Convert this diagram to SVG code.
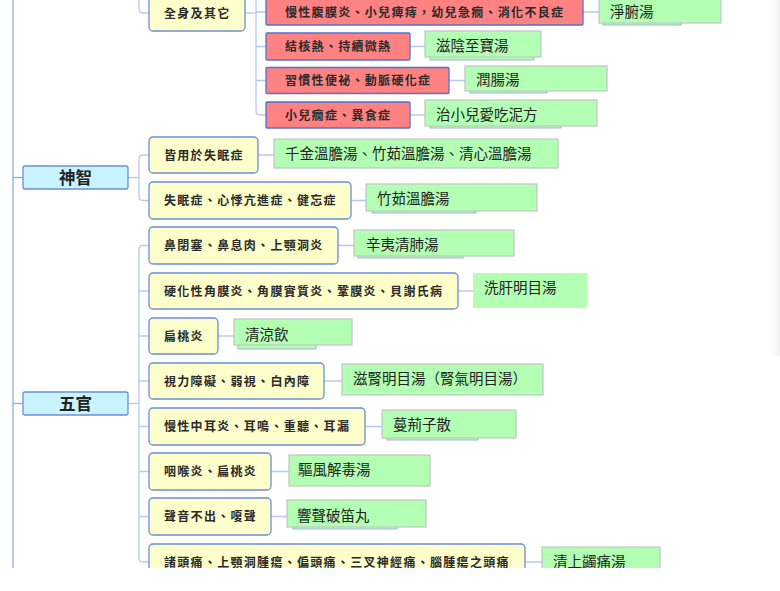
<svg xmlns="http://www.w3.org/2000/svg" width="780" height="591" viewBox="0 0 780 591">
<style>
.main rect{fill:#c9f4ff;stroke:#6a8fd8;stroke-width:1.3}
.main text{font-family:"Noto Sans CJK TC","Noto Sans CJK SC",sans-serif;font-size:16.5px;font-weight:bold;fill:#222;text-anchor:middle}
.yel rect{fill:#ffffcc;stroke:#6a8fd8;stroke-width:1.3}
.red rect{fill:#ff8282;stroke:#4f73cf;stroke-width:1.3}
.yel text,.red text{font-family:"Noto Sans CJK TC","Noto Sans CJK SC",sans-serif;font-size:12px;font-weight:bold;letter-spacing:1.3px;fill:#2a2a2a}
.grn rect{fill:#b3ffb3;stroke:#c4c4c4;stroke-width:1.2}
.grn rect.sh{fill:#b3ffb3;stroke:#9fb7d6;stroke-width:1}
.grn rect.nb{stroke:none}
.grn text{font-family:"Noto Sans CJK TC","Noto Sans CJK SC",sans-serif;font-size:14.5px;fill:#222}
.con path{fill:none;stroke:#b8caec;stroke-width:1.3}
.con path.tr{stroke:#8eaae0}
</style>
<defs>
<clipPath id="clip"><rect x="0" y="0" width="780" height="568"/></clipPath>
<linearGradient id="edge" x1="0" x2="1" y1="0" y2="0"><stop offset="0" stop-color="#ffffff" stop-opacity="0"/><stop offset="1" stop-color="#e8e8e8"/></linearGradient>
</defs>
<rect x="0" y="0" width="780" height="591" fill="#ffffff"/>
<rect x="768" y="0" width="12" height="356" fill="url(#edge)" opacity="0.7"/>
<g clip-path="url(#clip)">
<g id="connectors" class="con">
<path class="tr" d="M13,0 V568"/>
<path class="tr" d="M13,177.5 H23"/>
<path class="tr" d="M13,403.5 H23"/>
<path d="M139,0 V9 Q139,13 143,13 H149"/>
<path d="M245,13 H256"/>
<path d="M256,0 V111 Q256,115 260,115 H266"/>
<path d="M256,12 H266 M256,46.5 H266 M256,80.5 H266"/>
<path d="M583,12 H599 M410,46.5 H425 M449,80.5 H465 M410,115 H425"/>
<path d="M128,177.5 H139"/>
<path d="M149,155 H143 Q139,155 139,159 V196.5 Q139,200.5 143,200.5 H149"/>
<path d="M258,155 H274 M351,200.5 H366"/>
<path d="M128,403.5 H139"/>
<path d="M149,245.5 H143 Q139,245.5 139,249.5 V558 Q139,562 143,562 H149"/>
<path d="M139,291 H149 M139,336 H149 M139,381 H149 M139,426.5 H149 M139,471.5 H149 M139,516.5 H149"/>
<path d="M338,245.5 H354 M458,291 H473 M218,336 H234 M324,381 H342 M365,426.5 H382 M271,471.5 H289 M271,516.5 H287 M525,562 H542"/>
</g>
<g id="n-shenzhi" class="main"><rect x="23" y="166" width="105" height="23" rx="2"/><text x="75.5" y="183.5">神智</text></g>
<g id="n-wuguan" class="main"><rect x="23" y="392" width="105" height="23" rx="2"/><text x="75.5" y="409.5">五官</text></g>
<g id="n-quanshen" class="yel"><rect x="149" y="-6" width="96" height="37" rx="4"/><text x="164" y="17.5">全身及其它</text></g>
<g id="n-r1" class="red"><rect x="266" y="-2" width="317" height="27" rx="1"/><text x="285" y="16.5">慢性腹膜炎、小兒痺痔，幼兒急癇、消化不良症</text></g>
<g id="n-r2" class="red"><rect x="266" y="33" width="144" height="27" rx="1"/><text x="285" y="51">結核熱、持續微熱</text></g>
<g id="n-r3" class="red"><rect x="266" y="67.5" width="183" height="26" rx="1"/><text x="285" y="85">習慣性便祕、動脈硬化症</text></g>
<g id="n-r4" class="red"><rect x="266" y="102" width="144" height="26" rx="1"/><text x="285" y="119.5">小兒癇症、異食症</text></g>
<g id="n-g1" class="grn"><rect class="sh" x="603" y="14" width="78" height="11"/><rect x="599" y="-4" width="122" height="27"/><text x="610" y="17">淨腑湯</text></g>
<g id="n-g2" class="grn"><rect class="sh" x="430" y="49" width="104" height="11"/><rect x="425" y="31" width="116" height="26"/><text x="436" y="51">滋陰至寶湯</text></g>
<g id="n-g3" class="grn"><rect class="sh" x="470" y="82" width="77" height="11"/><rect x="465" y="66" width="142" height="25"/><text x="476" y="85">潤腸湯</text></g>
<g id="n-g4" class="grn"><rect class="sh" x="430" y="117" width="131" height="11"/><rect x="425" y="100" width="172" height="26"/><text x="436" y="120">治小兒愛吃泥方</text></g>
<g id="n-y1" class="yel"><rect x="149" y="137" width="109" height="36" rx="4"/><text x="164" y="159.5">皆用於失眠症</text></g>
<g id="n-g5" class="grn"><rect x="274" y="139" width="284" height="29"/><text x="285" y="159">千金溫膽湯、竹茹溫膽湯、清心溫膽湯</text></g>
<g id="n-y2" class="yel"><rect x="149" y="182" width="202" height="37" rx="4"/><text x="164" y="205">失眠症、心悸亢進症、健忘症</text></g>
<g id="n-g6" class="grn"><rect class="sh" x="372" y="202" width="104" height="11"/><rect x="366" y="184" width="171" height="27"/><text x="377" y="204">竹茹溫膽湯</text></g>
<g id="n-y3" class="yel"><rect x="149" y="227" width="189" height="37" rx="4"/><text x="164" y="250">鼻閉塞、鼻息肉、上顎洞炎</text></g>
<g id="n-g7" class="grn"><rect class="sh" x="358" y="247" width="105" height="11"/><rect x="354" y="230" width="160" height="26"/><text x="366" y="250">辛夷清肺湯</text></g>
<g id="n-y4" class="yel"><rect x="149" y="273" width="309" height="36" rx="4"/><text x="164" y="295.5">硬化性角膜炎、角膜實質炎、鞏膜炎、貝謝氏病</text></g>
<g id="n-g8" class="grn"><rect class="nb" x="473" y="273" width="114" height="35"/><text x="484" y="293">洗肝明目湯</text></g>
<g id="n-y5" class="yel"><rect x="149" y="318" width="69" height="36" rx="4"/><text x="164" y="340.5">扁桃炎</text></g>
<g id="n-g9" class="grn"><rect class="sh" x="238" y="338" width="78" height="11"/><rect x="234" y="319" width="118" height="26"/><text x="245" y="340">清涼飲</text></g>
<g id="n-y6" class="yel"><rect x="149" y="363" width="175" height="36" rx="4"/><text x="164" y="385.5">視力障礙、弱視、白內障</text></g>
<g id="n-g10" class="grn"><rect x="342" y="364" width="201" height="31"/><text x="353" y="384">滋腎明目湯（腎氣明目湯）</text></g>
<g id="n-y7" class="yel"><rect x="149" y="408" width="216" height="37" rx="4"/><text x="164" y="431">慢性中耳炎、耳鳴、重聽、耳漏</text></g>
<g id="n-g11" class="grn"><rect class="sh" x="387" y="429" width="91" height="11"/><rect x="382" y="410" width="134" height="28"/><text x="393" y="430">蔓荊子散</text></g>
<g id="n-y8" class="yel"><rect x="149" y="453" width="122" height="37" rx="4"/><text x="164" y="476">咽喉炎、扁桃炎</text></g>
<g id="n-g12" class="grn"><rect x="289" y="455" width="141" height="31"/><text x="298" y="475">驅風解毒湯</text></g>
<g id="n-y9" class="yel"><rect x="149" y="498" width="122" height="37" rx="4"/><text x="164" y="521">聲音不出、嗄聲</text></g>
<g id="n-g13" class="grn"><rect class="sh" x="293" y="518" width="104" height="11"/><rect x="287" y="500" width="139" height="27"/><text x="297" y="521">響聲破笛丸</text></g>
<g id="n-y10" class="yel"><rect x="149" y="544" width="376" height="37" rx="4"/><text x="164" y="567">諸頭痛、上顎洞腫瘍、偏頭痛、三叉神經痛、腦腫瘍之頭痛</text></g>
<g id="n-g14" class="grn"><rect x="542" y="547" width="118" height="30"/><text x="553" y="567">清上蠲痛湯</text></g>
</g>
</svg>
